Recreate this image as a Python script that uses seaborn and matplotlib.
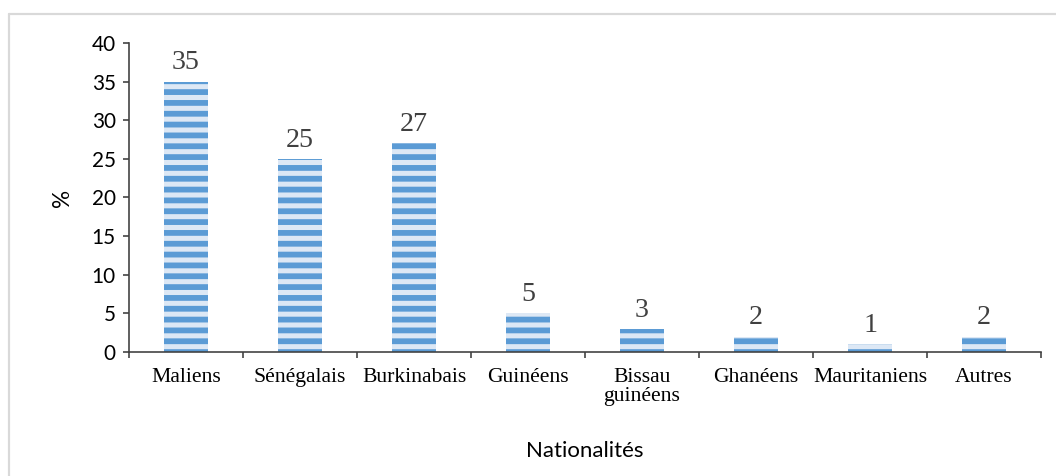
import numpy as np
import matplotlib
matplotlib.use('Agg')
import matplotlib.pyplot as plt
import seaborn as sns
from matplotlib.lines import Line2D

# data
nationalites = ['Maliens', 'Sénégalais', 'Burkinabais', 'Guinéens',
                'Bissau\nguinéens', 'Ghanéens', 'Mauritaniens', 'Autres']
pourcentages = [35, 25, 27, 5, 3, 2, 1, 2]
yticks = [0, 5, 10, 15, 20, 25, 30, 35, 40]

light_blue = '#dde8f5'
dark_blue = '#5b9bd5'
axis_col = '#404040'

sns.set_theme(style='white')
plt.rcParams['font.family'] = ['Lato', 'DejaVu Sans']
plt.rcParams['hatch.color'] = dark_blue
plt.rcParams['hatch.linewidth'] = 3.2

DPI = 130
fig = plt.figure(figsize=(1056 / DPI, 476 / DPI), dpi=DPI)
ax = fig.add_axes([129 / 1056, 124 / 476, (1041 - 129) / 1056, (352 - 43) / 476])

sns.barplot(x=nationalites, y=pourcentages, ax=ax, color=light_blue,
            saturation=1, width=0.39, edgecolor=dark_blue, linewidth=0,
            hatch='--')

# data labels
for i, v in enumerate(pourcentages):
    ax.text(i, v + 0.8, str(v), ha='center', va='bottom',
            fontsize=15.5, color='#404040', family='Liberation Serif')

ax.set_ylim(0, 40)
ax.set_xlim(-0.5, len(nationalites) - 0.5)
ax.set_yticks(yticks)
ax.tick_params(axis='y', which='major', direction='out', length=3.3,
               width=0.9, color=axis_col, labelsize=11.5, pad=4,
               labelcolor='black', left=True)

# x ticks: labels at centres, tick marks at boundaries
ax.set_xticks(np.arange(len(nationalites)))
ax.set_xticklabels(nationalites, family='Liberation Serif', fontsize=12,
                   linespacing=1.0)
ax.tick_params(axis='x', which='major', length=0, pad=9, labelcolor='black')
ax.set_xticks(np.arange(-0.5, len(nationalites)), minor=True)
ax.tick_params(axis='x', which='minor', direction='out', length=3.3,
               width=0.9, color=axis_col, bottom=True)

sns.despine(ax=ax)
for s in ['left', 'bottom']:
    ax.spines[s].set_color(axis_col)
    ax.spines[s].set_linewidth(0.9)

ax.set_ylabel('%', fontsize=12.5, labelpad=10.5, color='black')
ax.set_xlabel('Nationalités', fontsize=12.3, labelpad=19, color='black')

# light grey chart-area border (top and left visible)
fig.add_artist(Line2D([9 / 1056, 1.0], [1 - 14 / 476, 1 - 14 / 476],
                      transform=fig.transFigure, color='#d9d9d9', lw=1.2))
fig.add_artist(Line2D([9 / 1056, 9 / 1056], [0, 1 - 14 / 476],
                      transform=fig.transFigure, color='#d9d9d9', lw=1.2))

fig.savefig('out.png', dpi=DPI, facecolor='white')
